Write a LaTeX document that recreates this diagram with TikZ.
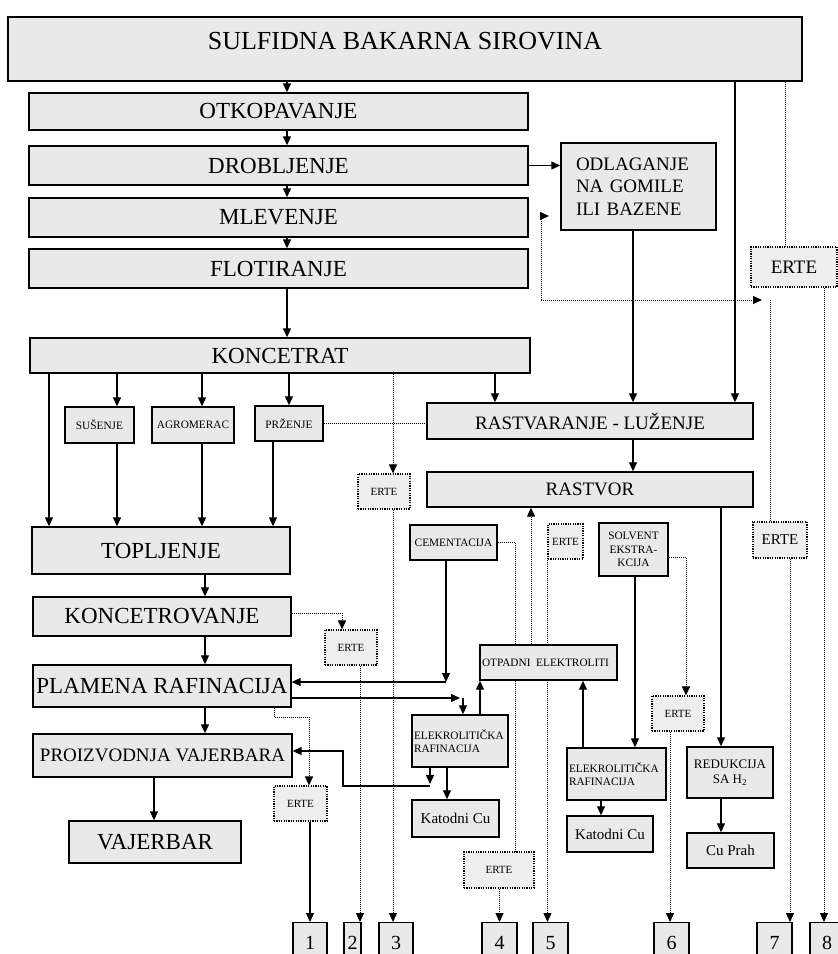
\documentclass[tikz,border=0pt]{standalone}
\usepackage{fontspec}
\setmainfont{Liberation Serif}
\usetikzlibrary{arrows.meta,backgrounds}

\begin{document}
\begin{tikzpicture}[x=1pt, y=-1pt, >={Triangle[length=9pt,width=8pt]},
  box/.style={draw, line width=1.4pt, fill=gray!17, inner sep=0pt, align=center},
  ertebox/.style={draw, dash pattern=on 1.2pt off 1.2pt, line width=1.1pt, fill=gray!13,
    inner sep=0pt, font=\fontsize{11}{13}\selectfont},
  nrbox/.style={draw, line width=1.4pt, fill=gray!17, inner sep=0pt, anchor=north,
    font=\fontsize{20}{22}\selectfont},
  sz/.style 2 args={minimum width=#1pt, minimum height=#2pt},
  line/.style={line width=1.3pt, ->},
  dots/.style={dash pattern=on 1pt off 1pt, line width=1pt},
  bigf/.style={font=\fontsize{23}{26}\selectfont},
  midf/.style={font=\fontsize{19}{22.5}\selectfont},
  smallf/.style={font=\fontsize{11.3}{13.3}\selectfont}]
\useasboundingbox (0,0) rectangle (838,954);
\clip (0,0) rectangle (838,954);

%Kutije
\node[box, sz={794}{64}, font=\fontsize{26}{30}\selectfont, text depth=16pt] (sirovina) at (405,49) {SULFIDNA BAKARNA SIROVINA};
\node[box, sz={499}{37}, bigf] (otkop) at (278.5,111.5) {OTKOPAVANJE};
\node[box, sz={499}{39}, bigf] (drob) at (278.5,165.5) {DROBLJENJE};
\node[box, sz={499}{39}, bigf] (mlev) at (278.5,217.5) {MLEVENJE};
\node[box, sz={499}{39}, bigf] (flot) at (278.5,268.5) {FLOTIRANJE};
\node[box, sz={155}{87}, midf, align=left, text width=125pt] (odlag) at (638.5,186.5) {ODLAGANJE\\NA GOMILE\\ILI BAZENE};
\node[ertebox, sz={86}{40}, font=\fontsize{19}{22}\selectfont] (erteA) at (794,267) {ERTE};

\node[box, sz={500}{35}, bigf] (koncentrat) at (280,355.5) {KONCETRAT};
\node[box, sz={69}{36}, smallf] (susenje) at (99.5,425) {SUŠENJE};
\node[box, sz={82}{36}, smallf] (agromerac) at (193,425) {AGROMERAC};
\node[box, sz={68}{35}, smallf] (przenje) at (289,423.5) {PRŽENJE};
\node[box, sz={326}{36}, midf] (rastvaranje) at (590,421) {RASTVARANJE - LUŽENJE};
\node[ertebox, sz={52}{35}] (erteB) at (384,491.5) {ERTE};
\node[box, sz={326}{35}, midf] (rastvor) at (590,489.5) {RASTVOR};

\node[box, sz={258}{47}, bigf] (topljenje) at (161,550.5) {TOPLJENJE};
\node[box, sz={87}{35}, smallf] (cementacija) at (453.5,542.5) {CEMENTACIJA};
\node[ertebox, sz={35}{35}] (erteC) at (565.5,541.5) {ERTE};
\node[box, sz={69}{53}, smallf] (solvent) at (633.5,549.5) {SOLVENT\\EKSTRA-\\KCIJA};
\node[ertebox, sz={54}{36}, font=\fontsize{15}{18}\selectfont] (erteD) at (780,540) {ERTE};

\node[box, sz={258}{39}, bigf] (koncetrovanje) at (162,616.5) {KONCETROVANJE};
\node[ertebox, sz={52}{35}] (erteE) at (351,647.5) {ERTE};
\node[box, sz={137}{35}, smallf, align=left, text width=133pt] (otpadni) at (548.5,662.5) {OTPADNI\enspace ELEKTROLITI};
\node[box, sz={258}{42}, bigf] (plamena) at (162,686) {PLAMENA RAFINACIJA};
\node[box, sz={96}{52}, smallf, align=left, text width=92pt] (elek1) at (460,741) {ELEKROLITIČKA\\RAFINACIJA};
\node[ertebox, sz={52}{35}] (erteF) at (678,713.5) {ERTE};
\node[box, sz={259}{43}, font=\fontsize{19}{22}\selectfont] (proiz) at (162.5,755.5) {PROIZVODNJA VAJERBARA};
\node[box, sz={99}{52}, smallf, align=left, text width=95pt] (elek2) at (616.5,774) {ELEKROLITIČKA\\RAFINACIJA};
\node[box, sz={86}{51}, font=\fontsize{13}{15}\selectfont] (redukcija) at (730,772.5) {REDUKCIJA\\SA H\textsubscript{2}};
\node[ertebox, sz={53}{35}] (erteG) at (300.5,803.5) {ERTE};
\node[box, sz={87}{37}, font=\fontsize{15}{18}\selectfont] (katodni1) at (455.5,818.5) {Katodni Cu};
\node[box, sz={86}{36}, font=\fontsize{15}{18}\selectfont] (katodni2) at (610,834) {Katodni Cu};
\node[box, sz={172}{42}, bigf] (vajerbar) at (155,842) {VAJERBAR};
\node[box, sz={87}{35}, font=\fontsize{15}{18}\selectfont] (cuprah) at (730.5,850.5) {Cu Prah};
\node[ertebox, sz={70}{36}] (erteH) at (499,870) {ERTE};

%Brojevi
\node[nrbox, sz={34}{40}] (n1) at (310,922) {1};
\node[nrbox, sz={17}{40}] (n2) at (352.5,922) {2};
\node[nrbox, sz={34}{40}] (n3) at (396,922) {3};
\node[nrbox, sz={35}{40}] (n4) at (499.5,922) {4};
\node[nrbox, sz={35}{40}] (n5) at (550.5,922) {5};
\node[nrbox, sz={35}{40}] (n6) at (671.5,922) {6};
\node[nrbox, sz={35}{40}] (n7) at (774.5,922) {7};
\node[nrbox, sz={34}{40}] (n8) at (827,922) {8};

%Tacke
\coordinate (kA) at (287,0);
\coordinate (kS) at (735,0);
\coordinate (kO) at (633,0);
\coordinate (kR) at (495,0);
\coordinate (t0) at (49,0);
\coordinate (t1) at (117,0);
\coordinate (t2) at (202,0);
\coordinate (t3) at (289,0);
\coordinate (t4) at (273,0);
\coordinate (p0) at (205,0);
\coordinate (p1) at (154,0);
\coordinate (cemB) at (446,682);
\coordinate (plE) at (460,698);
\coordinate (e1in) at (463,698);
\coordinate (e1up) at (480,0);
\coordinate (e1B) at (430,784);
\coordinate (e1C) at (430,786);
\coordinate (bend) at (343,751);
\coordinate (k1c) at (447,0);
\coordinate (sv) at (635,0);
\coordinate (e2up) at (583,0);
\coordinate (k2c) at (601,0);
\coordinate (rd) at (721,0);
\coordinate (dA) at (785,0);
\coordinate (d8) at (824,0);
\coordinate (d7) at (790,0);
\coordinate (mlA) at (549,216);
\coordinate (mlB) at (541,300);
\coordinate (mlC) at (762,300);
\coordinate (md) at (770,300);
\coordinate (kb) at (393,0);
\coordinate (ke) at (342,613);
\coordinate (e2x) at (360,0);
\coordinate (pa) at (274,0);
\coordinate (pb) at (309,717);
\coordinate (cd) at (515,542);
\coordinate (ou) at (531,0);
\coordinate (sd) at (686,557);
\coordinate (f6) at (670,0);

%Pune linije
\foreach \a/\b in {sirovina/otkop, otkop/drob, drob/mlev, mlev/flot, flot/koncentrat}
  \draw[line] (\a.south -| kA) -- (\b.north -| kA);
\draw[line] (drob.east) -- (drob.east -| odlag.west);
\draw[line] (odlag.south -| kO) -- (rastvaranje.north -| kO);
\draw[line] (sirovina.south -| kS) -- (rastvaranje.north -| kS);
\draw[line] (koncentrat.south -| kR) -- (rastvaranje.north -| kR);
\draw[line] (koncentrat.south -| t0) -- (topljenje.north -| t0);
\draw[line] (koncentrat.south -| t1) -- (susenje.north -| t1);
\draw[line] (susenje.south -| t1) -- (topljenje.north -| t1);
\draw[line] (koncentrat.south -| t2) -- (agromerac.north -| t2);
\draw[line] (agromerac.south -| t2) -- (topljenje.north -| t2);
\draw[line] (koncentrat.south -| t3) -- (przenje.north -| t3);
\draw[line] (przenje.south -| t4) -- (topljenje.north -| t4);
\draw[line] (rastvaranje.south -| kO) -- (rastvor.north -| kO);
\draw[line] (topljenje.south -| p0) -- (koncetrovanje.north -| p0);
\draw[line] (koncetrovanje.south -| p0) -- (plamena.north -| p0);
\draw[line] (plamena.south -| p0) -- (proiz.north -| p0);
\draw[line] (proiz.south -| p1) -- (vajerbar.north -| p1);
\draw[line] (cementacija.south -| cemB) -- (cemB);
\draw[line] (cemB) -- (cemB -| plamena.east);
\draw[line] (plE -| plamena.east) -- (plE);
\draw[line] (e1in) -- (elek1.north -| e1in);
\draw[line] (elek1.north -| e1up) -- (otpadni.south -| e1up);
\draw[line] (elek1.south -| e1B) -- (e1B);
\draw[line] (e1C) -| (bend) -- (bend -| proiz.east);
\draw[line] (elek1.south -| k1c) -- (katodni1.north -| k1c);
\draw[line] (solvent.south -| sv) -- (elek2.north -| sv);
\draw[line] (elek2.north -| e2up) -- (otpadni.south -| e2up);
\draw[line] (elek2.south -| k2c) -- (katodni2.north -| k2c);
\draw[line] (rastvor.south -| rd) -- (redukcija.north -| rd);
\draw[line] (redukcija.south -| rd) -- (cuprah.north -| rd);
\draw[line] (n1.north |- erteG.south) -- (n1.north);

%Isprekidane linije
\draw[dots] (sirovina.south -| dA) -- (erteA.north -| dA);
\draw[dots, ->] (erteA.south -| d8) -- (n8.north -| d8);
\draw[dots, ->] (mlB) |- (mlA);
\draw[dots, ->] (mlB) -- (mlC);
\draw[dots] (md) -- (erteD.north -| md);
\draw[dots, ->] (erteD.south -| d7) -- (n7.north -| d7);
\draw[dots, ->] (koncentrat.south -| kb) -- (erteB.north -| kb);
\draw[dots, ->] (erteB.south -| kb) -- (n3.north -| kb);
\draw[dots] (przenje.east) -- (przenje.east -| rastvaranje.west);
\draw[dots, ->] (koncetrovanje.east |- ke) -| (erteE.north -| ke);
\draw[dots, ->] (erteE.south -| e2x) -- (n2.north -| e2x);
\draw[dots, ->] (plamena.south -| pa) |- (pb) -- (erteG.north -| pb);
\draw[dots, ->] (n4.north |- erteH.south) -- (n4.north);
\draw[dots, ->] (otpadni.north -| ou) -- (rastvor.south -| ou);
\draw[dots, ->] (solvent.east |- sd) -| (erteF.north -| sd);
\draw[dots, ->] (erteF.south -| f6) -- (n6.north -| f6);
\begin{pgfonlayer}{background}
\draw[dots] (cementacija.east |- cd) -| (erteH.north -| cd);
\draw[dots, ->] (erteC.south west) -- (n5.north -| erteC.south west);
\end{pgfonlayer}
\end{tikzpicture}
\end{document}
